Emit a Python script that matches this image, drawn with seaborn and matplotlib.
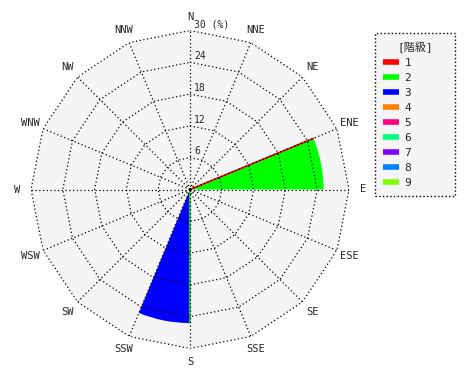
import numpy as np
import pandas as pd
import matplotlib
matplotlib.use("Agg")
import matplotlib.pyplot as plt
from matplotlib.lines import Line2D
import seaborn as sns

# ---- data ----
directions = ["N", "NNE", "NE", "ENE", "E", "ESE", "SE", "SSE",
              "S", "SSW", "SW", "WSW", "W", "WNW", "NW", "NNW"]
ring_values = [6, 12, 18, 24, 30]
ring_labels = ["6", "12", "18", "24", "30 (%)"]
classes = ["1", "2", "3", "4", "5", "6", "7", "8", "9"]
class_colors = ["#ff0000", "#00ff00", "#0000ff", "#ff8000", "#ff0080",
                "#00ff80", "#8000ff", "#0080ff", "#80ff00"]
# frequency (%) per class per direction (sector drawn clockwise from the direction)
bar_class = ["2", "3"]
bar_dir = ["ENE", "S"]
bar_value = [25.2, 25.2]
# edge lines seen on the sector edges
edge_class = ["1", "2"]
edge_dir = ["ENE", "S"]
edge_value = [25.2, 25.2]

sns.set_theme(style="white")
plt.rcParams["font.family"] = ["DejaVu Sans Mono", "Noto Sans CJK JP"]

W, H = 470, 380
fig = plt.figure(figsize=(W / 100, H / 100), dpi=100)
cx, cy, R = 190, 189.5, 159
ax = fig.add_axes([(cx - R) / W, (H - cy - R) / H, 2 * R / W, 2 * R / H],
                  projection="polar")
ax.set_theta_zero_location("N")
ax.set_theta_direction(-1)
ax.set_ylim(0, 30)
ax.grid(False)
ax.set_xticks([])
ax.set_yticks([])
ax.spines["polar"].set_visible(False)
ax.patch.set_alpha(0)

step = 2 * np.pi / len(directions)
angles = np.arange(len(directions)) * step
closed = np.append(angles, angles[0])

# background polygon
ax.fill(closed, [30] * len(closed), color="#f5f5f5", zorder=0, lw=0)

# sectors
df = pd.DataFrame({"cls": bar_class, "dir": bar_dir, "val": bar_value})
for _, row in df.iterrows():
    th = directions.index(row["dir"]) * step
    col = class_colors[classes.index(row["cls"])]
    ax.bar(th, row["val"], width=step, align="edge", color=col,
           edgecolor="none", zorder=1)
for c, d, v in zip(edge_class, edge_dir, edge_value):
    th = directions.index(d) * step
    ax.plot([th, th], [0, v], color=class_colors[classes.index(c)],
            lw=1.2, zorder=2)

# grid
for r in ring_values:
    ax.plot(closed, [r] * len(closed), color="black", lw=0.9,
            ls=(0, (1, 2)), zorder=3)
for th in angles:
    ax.plot([th, th], [0, 30], color="black", lw=0.9, ls=(0, (1, 2)), zorder=3)

# ring labels
for r, lab in zip(ring_values, ring_labels):
    ax.annotate(lab, xy=(0, r), xytext=(3, 1), textcoords="offset points",
                ha="left", va="bottom", fontsize=7, zorder=4)

# direction labels
for d, th in zip(directions, angles):
    ax.text(th, 32.6, d, ha="center", va="center", fontsize=7.5,
            clip_on=False)

handles = [Line2D([0], [0], color=c, lw=4, solid_capstyle="butt")
           for c in class_colors]
leg = fig.legend(handles, classes, title="[階級]", loc="upper left",
                 bbox_to_anchor=(375 / W, 1 - 195 / H, 80 / W, 162 / H),
                 mode="expand", borderaxespad=0,
                 fontsize=8, title_fontsize=8, handlelength=1.45,
                 handletextpad=0.45, labelspacing=0.45, borderpad=0.75,
                 fancybox=False, framealpha=1)
frame = leg.get_frame()
frame.set_facecolor("#f5f5f5")
frame.set_edgecolor("black")
frame.set_linestyle(":")
frame.set_linewidth(1.0)

fig.savefig("out.png", dpi=100)
